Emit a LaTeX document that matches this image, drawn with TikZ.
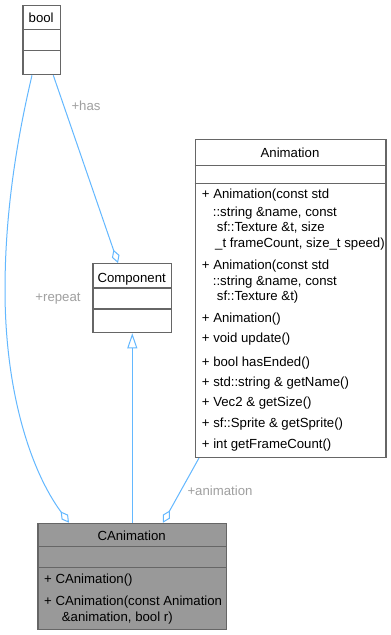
\documentclass[tikz,border=0pt]{standalone}
\usepackage{fontspec}
\setmainfont{Liberation Sans}
\usetikzlibrary{arrows.meta}
\definecolor{edgeblue}{HTML}{63B8FF}
\definecolor{boxborder}{HTML}{666666}
\definecolor{boxfilled}{HTML}{999999}
\definecolor{lblgray}{HTML}{A0A0A0}
\newcommand{\umlfont}{\fontsize{13.2}{16}\selectfont}
\tikzset{
  umlbox/.style={draw=boxborder, line width=1.3pt, fill=white, inner sep=0pt,
    anchor=north west, rectangle},
  sepline/.style={draw=boxborder, line width=1.3pt},
  member/.style={anchor=base west, inner sep=0pt, font=\umlfont},
  title/.style={anchor=base, inner sep=0pt, font=\umlfont},
  edge/.style={draw=edgeblue, line width=1pt},
  agg/.style={edge, -{Diamond[open, length=14pt, width=8pt]}},
  inherit/.style={edge, -{Triangle[open, length=15pt, width=10pt]}},
  rolelabel/.style={inner sep=0pt, text=lblgray, font=\umlfont},
}
\begin{document}
\begin{tikzpicture}[x=1pt, y=-1pt]
\useasboundingbox (0,0) rectangle (391,635);
\fill[white] (0,0) rectangle (391,635);

% bool
\node[umlbox, minimum width=37.7pt, minimum height=69.3pt] (bool) at (22.3,4.7) {};
\draw[sepline] (22.3,29.3) -- (60,29.3);
\draw[sepline] (22.3,50.7) -- (60,50.7);
\node[title] (booltitle) at (41.2,22.5) {bool};

% Component
\node[umlbox, minimum width=78.7pt, minimum height=69pt] (comp) at (92.3,263) {};
\draw[sepline] (92.3,288) -- (171,288);
\draw[sepline] (92.3,309) -- (171,309);
\node[title] (comptitle) at (131.65,282.3) {Component};

% Animation
\node[umlbox, minimum width=190.6pt, minimum height=317.7pt] (anim) at (194.7,139) {};
\draw[sepline] (194.7,165.7) -- (385.3,165.7);
\draw[sepline] (194.7,183.3) -- (385.3,183.3);
\node[title] (animtitle) at (290,157.6) {Animation};
\node[member] (a1) at (201.7,198.6) {+ Animation(const std};
\node[member] (a2) at (212.7,216.3) {::string \&name, const};
\node[member] (a3) at (216.7,231.6) {sf::Texture \&t, size};
\node[member] (a4) at (215,247.3) {\_t frameCount, size\_t speed)};
\node[member] (a5) at (201.7,269.6) {+ Animation(const std};
\node[member] (a6) at (212.7,285.3) {::string \&name, const};
\node[member] (a7) at (216.7,300.6) {sf::Texture \&t)};
\node[member] (a8) at (201.7,322.6) {+ Animation()};
\node[member] (a9) at (201.7,342.6) {+ void update()};
\node[member] (a10) at (201.7,366.3) {+ bool hasEnded()};
\node[member] (a11) at (201.7,386.3) {+ std::string \& getName()};
\node[member] (a12) at (201.7,406.3) {+ Vec2 \& getSize()};
\node[member] (a13) at (201.7,427.3) {+ sf::Sprite \& getSprite()};
\node[member] (a14) at (201.7,448.6) {+ int getFrameCount()};

% CAnimation
\node[umlbox, fill=boxfilled, minimum width=188.7pt, minimum height=106.3pt] (canim) at (37.3,522.7) {};
\draw[sepline] (37.3,546.7) -- (226,546.7);
\draw[sepline] (37.3,567.7) -- (226,567.7);
\node[title] (canimtitle) at (131.65,540.6) {CAnimation};
\node[member] (c1) at (44,583.6) {+ CAnimation()};
\node[member] (c2) at (44,605.3) {+ CAnimation(const Animation};
\node[member] (c3) at (61.7,621.3) {\&animation, bool r)};

% connectors
\draw[agg] ([xshift=9.7pt]bool.south west)
  .. controls (12,160) and (5,230) .. (5,290)
  .. controls (5,390) and (30,470) .. ([xshift=31.7pt]canim.north west);
\draw[agg] ([xshift=31pt]bool.south west) -- ([xshift=25.7pt]comp.north west);
\draw[inherit] (canim.north) -- (comp.south);
\draw[agg] ([xshift=4.3pt]anim.south west) -- ([xshift=125.7pt]canim.north west);

% role labels
\node[rolelabel] (lhas) at (86,106) {+has};
\node[rolelabel] (lrepeat) at (58,299) {+repeat};
\node[rolelabel] (lanim) at (220,491) {+animation};
\end{tikzpicture}
\end{document}
